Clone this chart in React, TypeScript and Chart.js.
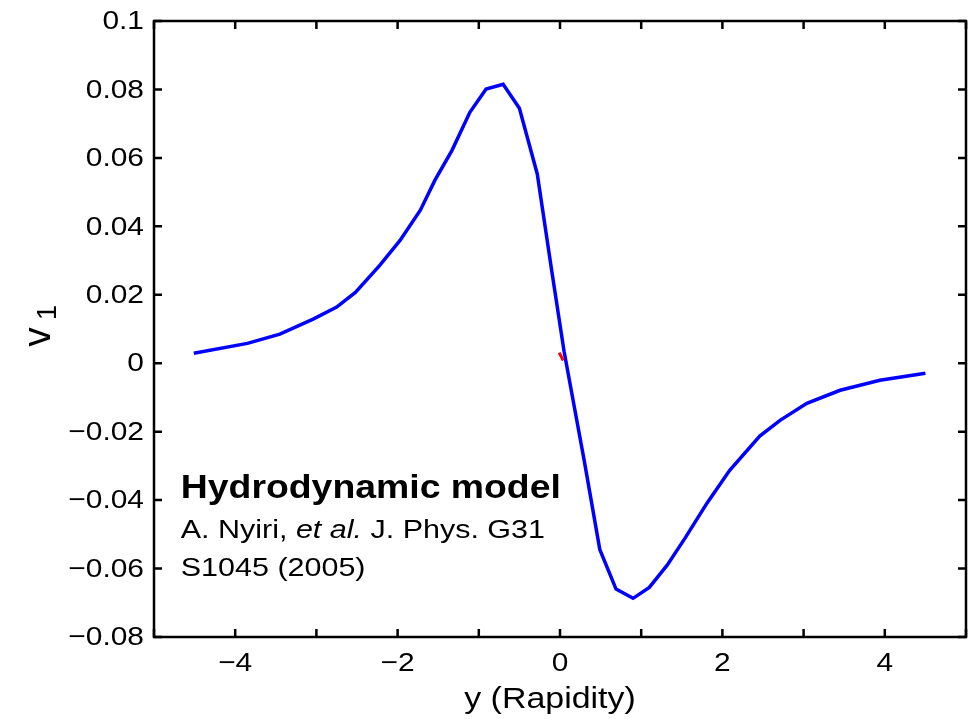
import React, { useEffect, useRef } from "react";
import { Chart, registerables } from "chart.js";

Chart.register(...registerables);

// Hydrodynamic model curve: rapidity y vs directed flow v1
const rapidity = [-4.51, -3.85, -3.45, -3.04, -2.75, -2.52, -2.22, -1.97, -1.72, -1.54, -1.33, -1.11, -0.91, -0.70, -0.50, -0.28, -0.10, 0.05, 0.30, 0.49, 0.69, 0.90, 1.10, 1.32, 1.54, 1.81, 2.09, 2.46, 2.71, 3.04, 3.45, 3.94, 4.50];
const v1 = [0.0029, 0.0058, 0.0085, 0.0129, 0.0164, 0.0207, 0.0286, 0.0359, 0.0447, 0.0535, 0.0622, 0.0733, 0.0801, 0.0815, 0.0745, 0.0553, 0.0267, 0.0035, -0.0287, -0.0544, -0.066, -0.0687, -0.0655, -0.059, -0.0511, -0.0409, -0.0313, -0.0213, -0.0167, -0.0117, -0.0079, -0.0050, -0.0029];

// small red segment near the origin
const redRapidity = [-0.01, 0.04];
const redV1 = [0.0031, 0.0008];

// axis ticks
const xTickValues = [-5, -4, -3, -2, -1, 0, 1, 2, 3, 4, 5];
const xLabelValues = [-4, -2, 0, 2, 4];
const xLabelTexts = ["\u22124", "\u22122", "0", "2", "4"];
const yTickValues = [-0.08, -0.06, -0.04, -0.02, 0, 0.02, 0.04, 0.06, 0.08, 0.1];
const yTickTexts = ["\u22120.08", "\u22120.06", "\u22120.04", "\u22120.02", "0", "0.02", "0.04", "0.06", "0.08", "0.1"];

const xTitle = "y (Rapidity)";
const noteTitle = "Hydrodynamic model";
const noteLine2a = "A. Nyiri, ";
const noteLine2b = "et al.";
const noteLine2c = " J. Phys. G31";
const noteLine3 = "S1045 (2005)";

const FONT = '"Liberation Sans", Arial, Helvetica, sans-serif';
const SX = 1.15;

function drawText(ctx: CanvasRenderingContext2D, text: string, x: number, y: number, font: string, align: CanvasTextAlign, baseline: CanvasTextBaseline, sx = SX) {
  ctx.save();
  ctx.translate(x, y);
  ctx.scale(sx, 1);
  ctx.font = font;
  ctx.textAlign = align;
  ctx.textBaseline = baseline;
  ctx.fillStyle = "#000";
  ctx.fillText(text, 0, 0);
  const w = ctx.measureText(text).width * sx;
  ctx.restore();
  return w;
}

const framePlugin = {
  id: "matlabFrame",
  afterDraw(chart: any) {
    const ctx: CanvasRenderingContext2D = chart.ctx;
    const { left, right, top, bottom } = chart.chartArea;
    const xs = chart.scales.x;
    const ys = chart.scales.y;
    ctx.save();
    ctx.strokeStyle = "#000";
    ctx.lineWidth = 2.5;
    ctx.lineCap = "butt";
    ctx.strokeRect(left, top, right - left, bottom - top);
    const tl = 8;
    ctx.beginPath();
    xTickValues.forEach((v) => {
      const px = xs.getPixelForValue(v);
      ctx.moveTo(px, bottom);
      ctx.lineTo(px, bottom - tl);
      ctx.moveTo(px, top);
      ctx.lineTo(px, top + tl);
    });
    yTickValues.forEach((v) => {
      const py = ys.getPixelForValue(v);
      ctx.moveTo(left, py);
      ctx.lineTo(left + tl, py);
      ctx.moveTo(right, py);
      ctx.lineTo(right - tl, py);
    });
    ctx.stroke();
    ctx.restore();

    const tickFont = `26px ${FONT}`;
    yTickValues.forEach((v, i) => {
      drawText(ctx, yTickTexts[i], left - 10, ys.getPixelForValue(v) + 1, tickFont, "right", "middle");
    });
    xLabelValues.forEach((v, i) => {
      drawText(ctx, xLabelTexts[i], xs.getPixelForValue(v), bottom + 34, tickFont, "center", "alphabetic");
    });

    // x title
    drawText(ctx, xTitle, 550, 708, `29.5px ${FONT}`, "center", "alphabetic");

    // y title v_1 (rotated)
    ctx.save();
    ctx.translate(50, 337);
    ctx.rotate(-Math.PI / 2);
    ctx.fillStyle = "#000";
    ctx.font = `39px ${FONT}`;
    ctx.textBaseline = "alphabetic";
    ctx.textAlign = "center";
    ctx.fillText("v", 0, 0);
    ctx.font = `27px ${FONT}`;
    ctx.textAlign = "left";
    ctx.fillText("1", 17, 6);
    ctx.restore();

    // annotation
    const ax = xs.getPixelForValue(-4.67);
    drawText(ctx, noteTitle, ax, 498, `bold 32.5px ${FONT}`, "left", "alphabetic");
    let cx = ax;
    cx += drawText(ctx, noteLine2a, cx, 538, `26.5px ${FONT}`, "left", "alphabetic");
    cx += drawText(ctx, noteLine2b, cx, 538, `italic 26.5px ${FONT}`, "left", "alphabetic");
    drawText(ctx, noteLine2c, cx, 538, `26.5px ${FONT}`, "left", "alphabetic");
    drawText(ctx, noteLine3, ax, 576, `26.5px ${FONT}`, "left", "alphabetic");
  },
};

export default function App() {
  const ref = useRef<HTMLCanvasElement | null>(null);
  useEffect(() => {
    if (!ref.current) return;
    const chart = new Chart(ref.current, {
      type: "line",
      data: {
        datasets: [
          {
            label: "Hydrodynamic model",
            data: rapidity.map((x, i) => ({ x, y: v1[i] })),
            borderColor: "#0000ff",
            borderWidth: 3.5,
            pointRadius: 0,
            tension: 0,
            fill: false,
            order: 2,
          },
          {
            label: "red",
            data: redRapidity.map((x, i) => ({ x, y: redV1[i] })),
            borderColor: "#ff0000",
            borderWidth: 3,
            pointRadius: 0,
            tension: 0,
            fill: false,
            order: 1,
          },
        ],
      },
      options: {
        animation: false,
        responsive: false,
        maintainAspectRatio: false,
        layout: { padding: { left: 0, right: 4, top: 21, bottom: 0 } },
        plugins: { legend: { display: false }, tooltip: { enabled: false } },
        scales: {
          x: {
            type: "linear",
            min: -5,
            max: 5,
            ticks: { display: false, stepSize: 1 },
            grid: { display: false },
            border: { display: false },
            afterFit(s: any) {
              s.height = 82;
            },
          },
          y: {
            type: "linear",
            min: -0.08,
            max: 0.1,
            ticks: { display: false, stepSize: 0.02 },
            grid: { display: false },
            border: { display: false },
            afterFit(s: any) {
              s.width = 154;
            },
          },
        },
      },
      plugins: [framePlugin],
    });
    return () => chart.destroy();
  }, []);
  return (
    <div style={{ position: "fixed", left: 0, top: 0, width: 970, height: 719, background: "#fff" }}>
      <canvas ref={ref} width={970} height={719} style={{ width: 970, height: 719, display: "block" }} />
    </div>
  );
}
